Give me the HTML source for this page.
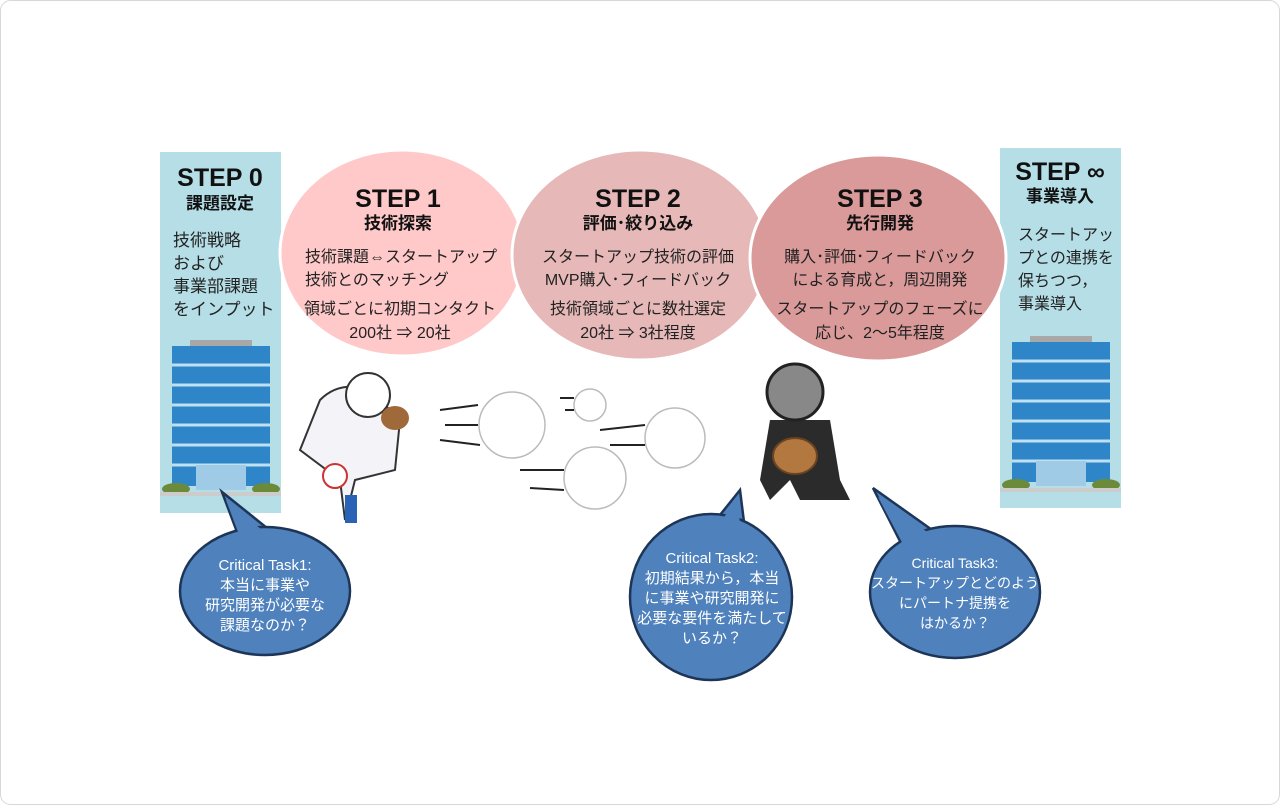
<!DOCTYPE html>
<html><head><meta charset="utf-8"><style>
html,body{margin:0;padding:0;background:#fff}
body{width:1280px;height:805px;overflow:hidden;font-family:"Liberation Sans","Noto Sans CJK JP",sans-serif}
</style></head><body>
<svg width="1280" height="805" viewBox="0 0 1280 805" xmlns="http://www.w3.org/2000/svg" font-family="Liberation Sans, Noto Sans CJK JP, sans-serif">
<rect x="0.5" y="0.5" width="1279" height="804" rx="10" fill="#fff" stroke="#d8d8d8"/>
<rect x="160" y="152" width="121" height="361" fill="#b5dee7"/>
<rect x="1000" y="148" width="121" height="360" fill="#b5dee7"/>
<g id="bld">
<rect x="190" y="340" width="62" height="6" fill="#a8a8a8"/>
<rect x="172" y="346" width="98" height="140" fill="#2e86c8"/>
<g stroke="#bfe0f0" stroke-width="3">
<line x1="172" y1="365" x2="270" y2="365"/><line x1="172" y1="385" x2="270" y2="385"/><line x1="172" y1="405" x2="270" y2="405"/><line x1="172" y1="425" x2="270" y2="425"/><line x1="172" y1="445" x2="270" y2="445"/><line x1="172" y1="465" x2="270" y2="465"/>
</g>
<rect x="196" y="465" width="50" height="25" fill="#9fcbe6"/>
<ellipse cx="176" cy="489" rx="14" ry="6" fill="#6b8b3a"/><ellipse cx="266" cy="489" rx="14" ry="6" fill="#6b8b3a"/>
<rect x="160" y="492" width="121" height="4" fill="#ccc"/>
</g>
<use href="#bld" transform="translate(840,-4)"/>
<ellipse cx="402" cy="253" rx="122" ry="103" fill="#ffc9c9" stroke="#fff" stroke-width="3"/>
<ellipse cx="640" cy="255" rx="128" ry="105" fill="#e6b8b8" stroke="#fff" stroke-width="3"/>
<ellipse cx="878" cy="258" rx="128" ry="103" fill="#da9a9a" stroke="#fff" stroke-width="3"/>
<g fill="#111" text-anchor="middle" font-weight="bold">
<text x="220" y="186" font-size="25">STEP 0</text>
<text x="220" y="209" font-size="17">課題設定</text>
<text x="398" y="207" font-size="25">STEP 1</text>
<text x="398" y="229" font-size="17">技術探索</text>
<text x="638" y="207" font-size="25">STEP 2</text>
<text x="638" y="229" font-size="17">評価･絞り込み</text>
<text x="880" y="207" font-size="25">STEP 3</text>
<text x="880" y="229" font-size="17">先行開発</text>
<text x="1060" y="180" font-size="25">STEP ∞</text>
<text x="1060" y="202" font-size="17">事業導入</text>
</g>
<g fill="#222" font-size="16">
<g font-size="17"><text x="173" y="246">技術戦略</text><text x="173" y="269">および</text><text x="173" y="292">事業部課題</text><text x="173" y="315">をインプット</text></g>
<text x="305" y="262">技術課題⇔スタートアップ</text><text x="305" y="285">技術とのマッチング</text>
<text x="400" y="314" text-anchor="middle">領域ごとに初期コンタクト</text><text x="400" y="338" text-anchor="middle">200社 ⇒ 20社</text>
<text x="638" y="262" text-anchor="middle">スタートアップ技術の評価</text><text x="638" y="285" text-anchor="middle">MVP購入･フィードバック</text>
<text x="638" y="314" text-anchor="middle">技術領域ごとに数社選定</text><text x="638" y="338" text-anchor="middle">20社 ⇒ 3社程度</text>
<text x="880" y="262" text-anchor="middle">購入･評価･フィードバック</text><text x="880" y="285" text-anchor="middle">による育成と，周辺開発</text>
<text x="880" y="314" text-anchor="middle">スタートアップのフェーズに</text><text x="880" y="338" text-anchor="middle">応じ、2～5年程度</text>
<text x="1018" y="240">スタートアッ</text><text x="1018" y="263">プとの連携を</text><text x="1018" y="286">保ちつつ，</text><text x="1018" y="309">事業導入</text>
</g>
<g>
<path d="M320 400 Q340 380 370 390 L400 420 L395 470 L355 480 L345 520 L340 480 L300 450 Z" fill="#f4f4f8" stroke="#333" stroke-width="2"/>
<circle cx="368" cy="395" r="22" fill="#fff" stroke="#333" stroke-width="2"/>
<ellipse cx="395" cy="418" rx="14" ry="12" fill="#a0693a"/>
<circle cx="335" cy="476" r="12" fill="#fff" stroke="#c33" stroke-width="2"/>
<rect x="345" y="495" width="12" height="28" fill="#2a62b5"/>
</g>
<g fill="#fff" stroke="#bbb" stroke-width="1.5">
<circle cx="512" cy="425" r="33"/><circle cx="590" cy="405" r="16"/><circle cx="675" cy="438" r="30"/><circle cx="595" cy="478" r="31"/>
</g>
<g stroke="#222" stroke-width="2">
<line x1="440" y1="410" x2="478" y2="405"/><line x1="445" y1="425" x2="478" y2="425"/><line x1="440" y1="440" x2="480" y2="445"/>
<line x1="600" y1="430" x2="645" y2="425"/><line x1="610" y1="445" x2="645" y2="445"/>
<line x1="520" y1="470" x2="564" y2="470"/><line x1="530" y1="488" x2="564" y2="490"/>
<line x1="560" y1="398" x2="574" y2="398"/><line x1="565" y1="410" x2="574" y2="410"/>
</g>
<g>
<path d="M770 420 L830 420 L840 480 L850 500 L800 500 L790 480 L770 500 L760 480 Z" fill="#2b2b2b"/>
<circle cx="795" cy="392" r="28" fill="#888" stroke="#222" stroke-width="3"/>
<ellipse cx="795" cy="456" rx="22" ry="18" fill="#b27840" stroke="#6b4320" stroke-width="2"/>
</g>
<g fill="#4f81bd" stroke="#1d3557" stroke-width="2.5">
<path d="M222 492 L240 540 L272 532 Z"/>
<ellipse cx="265" cy="591" rx="85" ry="64"/>
<path d="M740 490 L712 525 L745 530 Z"/>
<ellipse cx="711" cy="597" rx="81" ry="83"/>
<path d="M873 488 L902 545 L935 532 Z"/>
<ellipse cx="955" cy="592" rx="85" ry="66"/>
</g>
<g fill="#4f81bd">
<path d="M226 500 L243 545 L268 535 Z"/>
<path d="M737 497 L716 530 L741 532 Z"/>
<path d="M878 497 L905 548 L930 534 Z"/>
</g>
<g fill="#fff" font-size="15" text-anchor="middle">
<text x="265" y="570">Critical  Task1:</text><text x="265" y="590">本当に事業や</text><text x="265" y="610">研究開発が必要な</text><text x="265" y="630">課題なのか？</text>
<text x="712" y="563">Critical  Task2:</text><text x="712" y="583">初期結果から，本当</text><text x="712" y="603">に事業や研究開発に</text><text x="712" y="623">必要な要件を満たして</text><text x="712" y="643">いるか？</text>
<g font-size="14"><text x="955" y="568">Critical  Task3:</text><text x="955" y="588">スタートアップとどのよう</text><text x="955" y="608">にパートナ提携を</text><text x="955" y="628">はかるか？</text></g>
</g>
</svg>
</body></html>
